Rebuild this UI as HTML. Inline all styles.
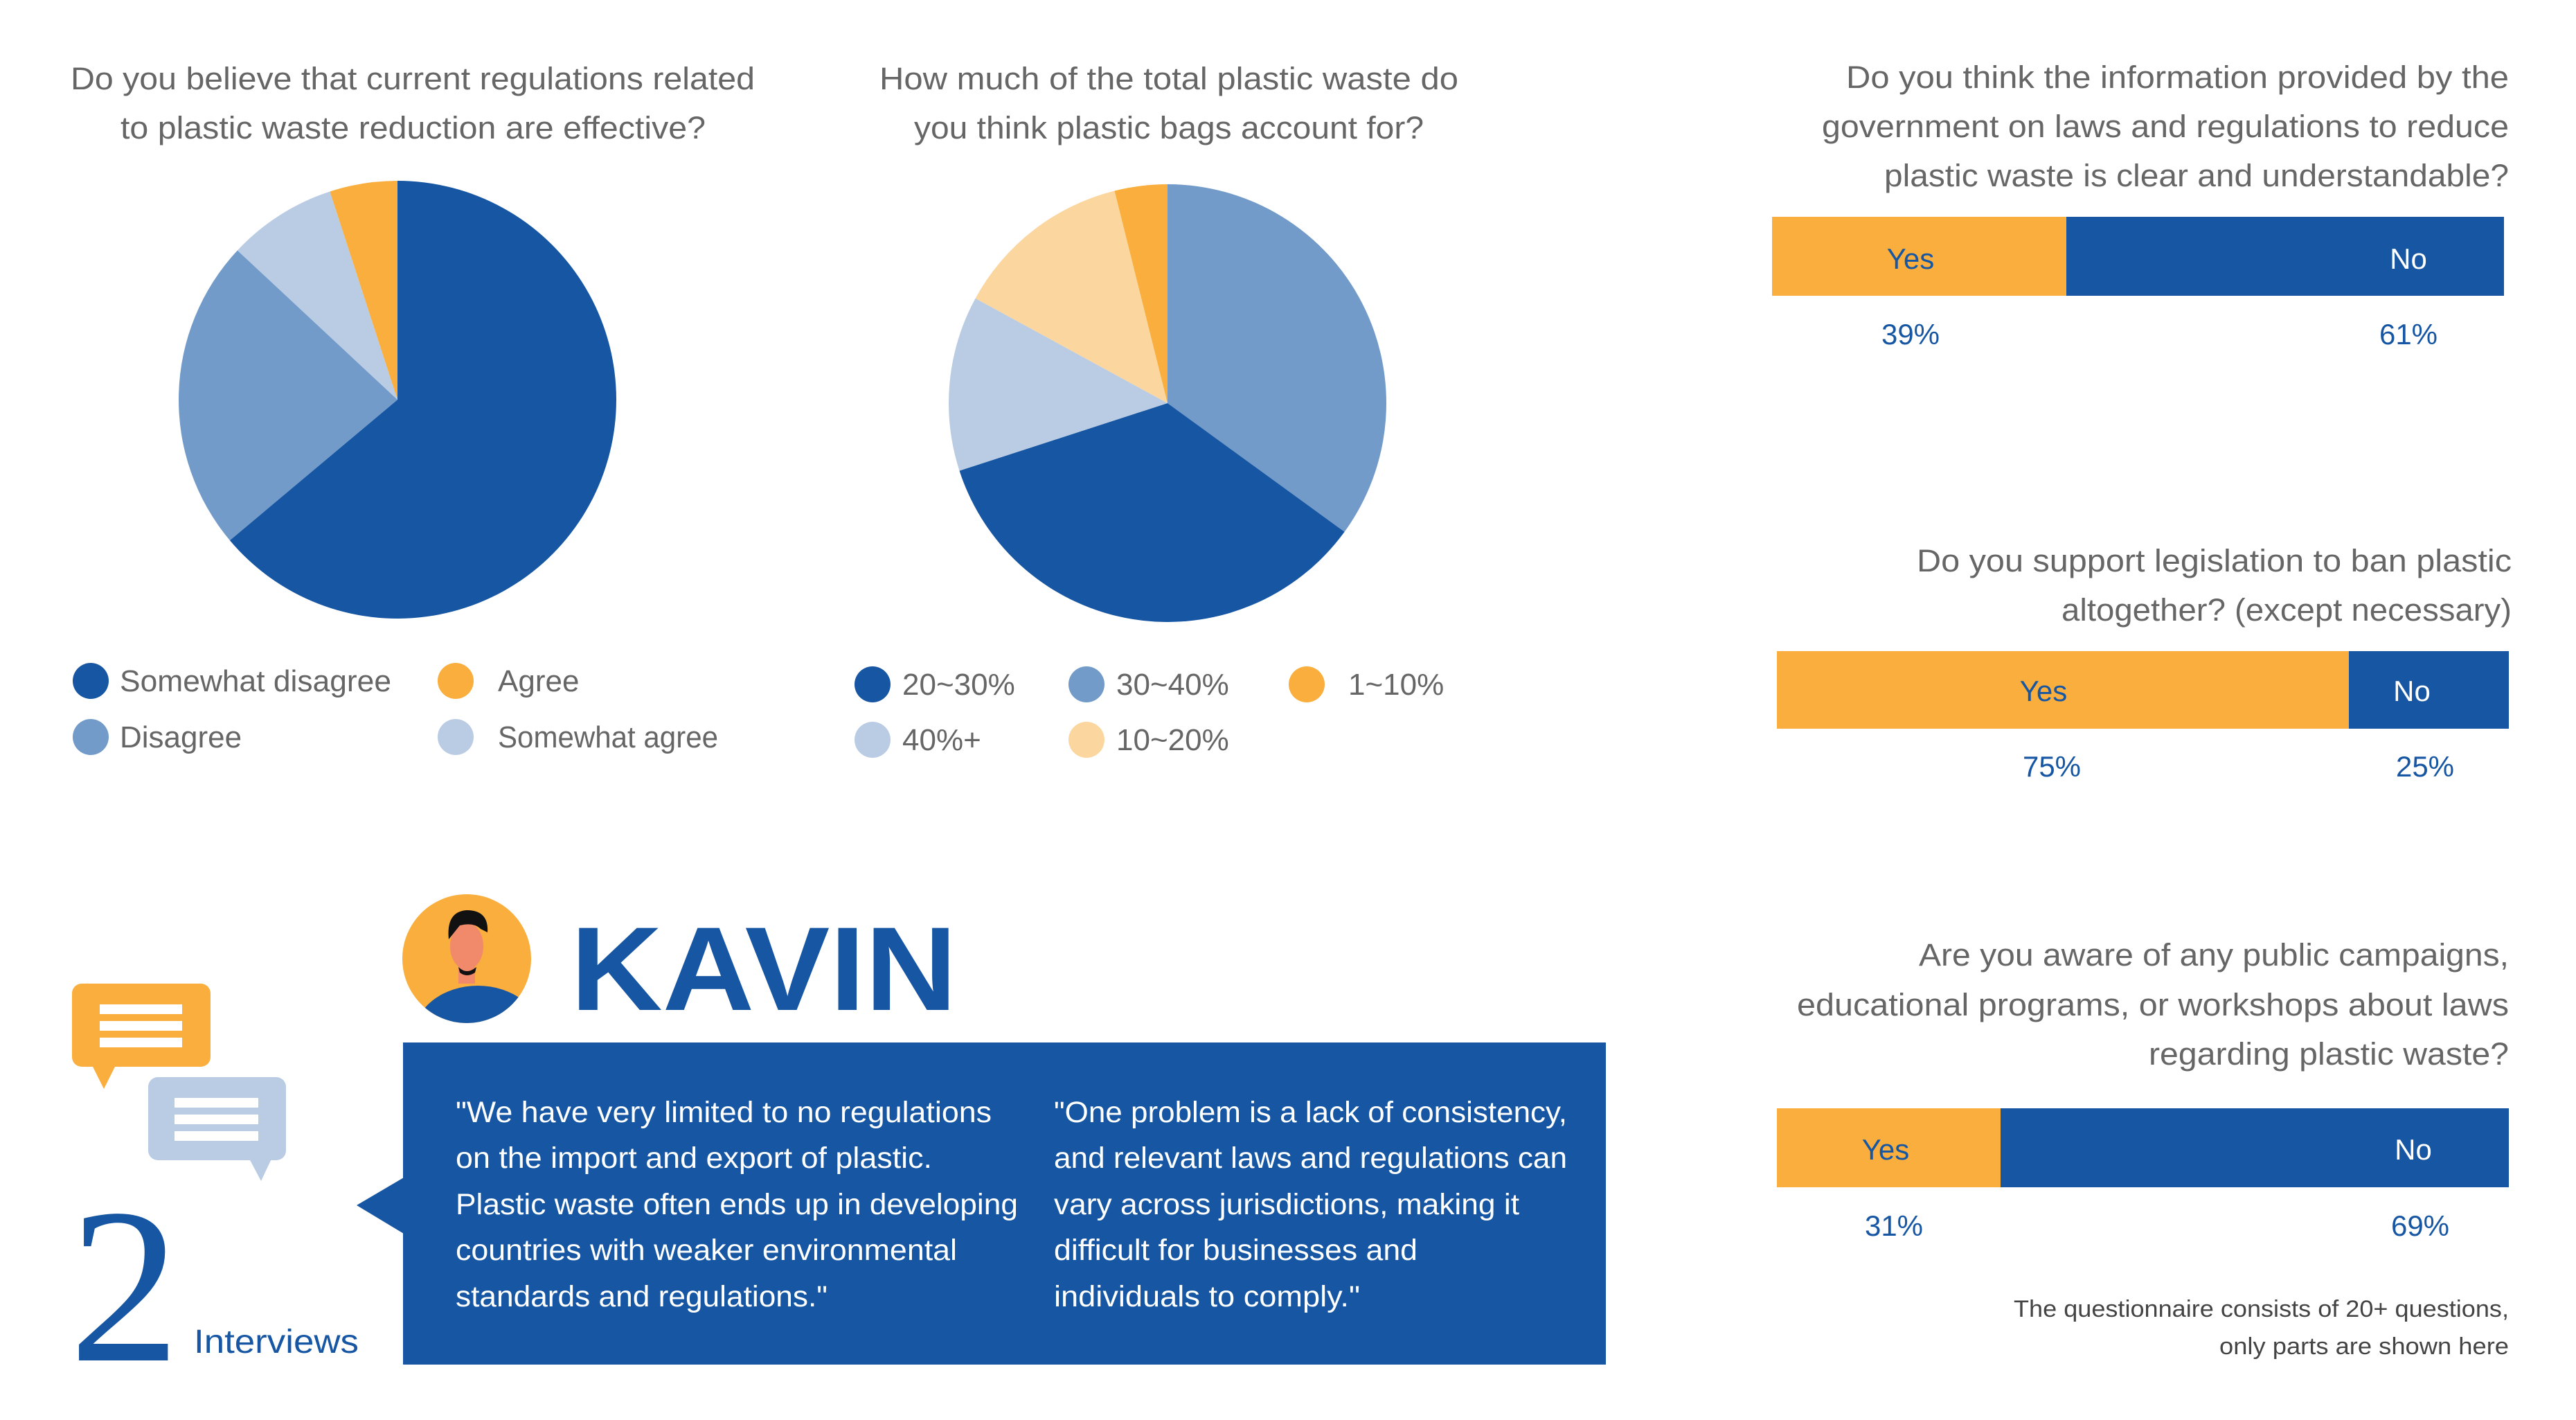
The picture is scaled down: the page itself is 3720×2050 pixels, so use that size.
<!DOCTYPE html>
<html><head><meta charset="utf-8"><style>
html,body{margin:0;padding:0;background:#fff;}
svg{display:block;font-family:"Liberation Sans",sans-serif;}
</style></head><body>
<svg width="3720" height="2050" viewBox="0 0 3720 2050" xmlns="http://www.w3.org/2000/svg">
<rect width="3720" height="2050" fill="#fff"/>
<g fill="#666" font-size="45" lengthAdjust="spacingAndGlyphs">
<text x="102" y="129" textLength="988" lengthAdjust="spacingAndGlyphs">Do you believe that current regulations related</text>
<text x="174" y="200" textLength="845" lengthAdjust="spacingAndGlyphs">to plastic waste reduction are effective?</text>
<text x="1270" y="129" textLength="836" lengthAdjust="spacingAndGlyphs">How much of the total plastic waste do</text>
<text x="1320" y="200" textLength="736" lengthAdjust="spacingAndGlyphs">you think plastic bags account for?</text>
</g>
<!-- Pie 1 -->
<path d="M574,577 L574,261 A316,316 0 1,1 331.9,780.1 Z" fill="#1656a3"/>
<path d="M574,577 L331.9,780.1 A316,316 0 0,1 342.9,361.5 Z" fill="#729bc9"/>
<path d="M574,577 L342.9,361.5 A316,316 0 0,1 476.4,276.5 Z" fill="#b9cce4"/>
<path d="M574,577 L476.4,276.5 A316,316 0 0,1 574,261 Z" fill="#f9ae3d"/>
<!-- Pie 2 -->
<path d="M1686,582 L1686,266 A316,316 0 0,1 1941.6,767.8 Z" fill="#729bc9"/>
<path d="M1686,582 L1941.6,767.8 A316,316 0 0,1 1385.5,679.6 Z" fill="#1656a3"/>
<path d="M1686,582 L1385.5,679.6 A316,316 0 0,1 1408.6,430.7 Z" fill="#b9cce4"/>
<path d="M1686,582 L1408.6,430.7 A316,316 0 0,1 1609.5,275.5 Z" fill="#fbd69e"/>
<path d="M1686,582 L1609.5,275.5 A316,316 0 0,1 1686,266 Z" fill="#f9ae3d"/>
<!-- Legends -->
<g font-size="44" fill="#666">
<circle cx="131" cy="983" r="26" fill="#1656a3"/><text x="173" y="998" textLength="392" lengthAdjust="spacingAndGlyphs">Somewhat disagree</text>
<circle cx="658" cy="983" r="26" fill="#f9ae3d"/><text x="719" y="998">Agree</text>
<circle cx="131" cy="1064" r="26" fill="#729bc9"/><text x="173" y="1079">Disagree</text>
<circle cx="658" cy="1064" r="26" fill="#b9cce4"/><text x="719" y="1079" textLength="318" lengthAdjust="spacingAndGlyphs">Somewhat agree</text>
<circle cx="1260" cy="988" r="26" fill="#1656a3"/><text x="1303" y="1003">20~30%</text>
<circle cx="1569" cy="988" r="26" fill="#729bc9"/><text x="1612" y="1003">30~40%</text>
<circle cx="1887" cy="988" r="26" fill="#f9ae3d"/><text x="1947" y="1003">1~10%</text>
<circle cx="1260" cy="1068" r="26" fill="#b9cce4"/><text x="1303" y="1083">40%+</text>
<circle cx="1569" cy="1068" r="26" fill="#fbd69e"/><text x="1612" y="1083">10~20%</text>
</g>
<!-- Right titles -->
<g fill="#666" font-size="45" text-anchor="end">
<text x="3623" y="127" textLength="957" lengthAdjust="spacingAndGlyphs">Do you think the information provided by the</text>
<text x="3623" y="198" textLength="992" lengthAdjust="spacingAndGlyphs">government on laws and regulations to reduce</text>
<text x="3623" y="269" textLength="902" lengthAdjust="spacingAndGlyphs">plastic waste is clear and understandable?</text>
<text x="3627" y="825" textLength="859" lengthAdjust="spacingAndGlyphs">Do you support legislation to ban plastic</text>
<text x="3627" y="896" textLength="650" lengthAdjust="spacingAndGlyphs">altogether? (except necessary)</text>
<text x="3623" y="1394" textLength="852" lengthAdjust="spacingAndGlyphs">Are you aware of any public campaigns,</text>
<text x="3623" y="1466" textLength="1028" lengthAdjust="spacingAndGlyphs">educational programs, or workshops about laws</text>
<text x="3623" y="1537" textLength="520" lengthAdjust="spacingAndGlyphs">regarding plastic waste?</text>
</g>
<g font-size="34" fill="#444" text-anchor="end">
<text x="3623" y="1901" textLength="715" lengthAdjust="spacingAndGlyphs">The questionnaire consists of 20+ questions,</text>
<text x="3623" y="1955" textLength="418" lengthAdjust="spacingAndGlyphs">only parts are shown here</text>
</g>
<rect x="2559" y="313" width="425" height="114" fill="#f9ae3d"/>
<rect x="2984" y="313" width="632" height="114" fill="#1656a3"/>
<rect x="2566" y="940" width="826" height="112" fill="#f9ae3d"/>
<rect x="3392" y="940" width="231" height="112" fill="#1656a3"/>
<rect x="2566" y="1600" width="323" height="114" fill="#f9ae3d"/>
<rect x="2889" y="1600" width="734" height="114" fill="#1656a3"/>
<g font-size="42" text-anchor="middle">
<text x="2759" y="388" fill="#1656a3">Yes</text><text x="3478" y="388" fill="#fff">No</text>
<text x="2759" y="497" fill="#1656a3">39%</text><text x="3478" y="497" fill="#1656a3">61%</text>
<text x="2951" y="1012" fill="#1656a3">Yes</text><text x="3483" y="1012" fill="#fff">No</text>
<text x="2963" y="1121" fill="#1656a3">75%</text><text x="3502" y="1121" fill="#1656a3">25%</text>
<text x="2723" y="1674" fill="#1656a3">Yes</text><text x="3485" y="1674" fill="#fff">No</text>
<text x="2735" y="1784" fill="#1656a3">31%</text><text x="3495" y="1784" fill="#1656a3">69%</text>
</g>
<!-- Chat bubbles -->
<rect x="104" y="1420" width="200" height="120" rx="14" fill="#f9ae3d"/>
<polygon points="132,1536 168,1536 150,1572" fill="#f9ae3d"/>
<rect x="144" y="1450" width="119" height="14" fill="#fff"/>
<rect x="144" y="1474" width="119" height="14" fill="#fff"/>
<rect x="144" y="1498" width="119" height="14" fill="#fff"/>
<rect x="214" y="1555" width="199" height="120" rx="14" fill="#b9cce4"/>
<polygon points="359,1671 393,1671 377,1705" fill="#b9cce4"/>
<rect x="252" y="1585" width="121" height="14" fill="#fff"/>
<rect x="252" y="1609" width="121" height="14" fill="#fff"/>
<rect x="252" y="1633" width="121" height="14" fill="#fff"/>
<text x="100" y="1964" font-family="Liberation Serif,serif" font-size="320" fill="#1656a3">2</text>
<text x="280" y="1953" font-size="48" fill="#1656a3" textLength="238" lengthAdjust="spacingAndGlyphs">Interviews</text>
<!-- Avatar -->
<clipPath id="av"><circle cx="674" cy="1384" r="93"/></clipPath>
<circle cx="674" cy="1384" r="93" fill="#f9ae3d"/>
<g clip-path="url(#av)">
<ellipse cx="690" cy="1495" rx="92" ry="72" fill="#1656a3"/>
<rect x="662" y="1380" width="24" height="40" fill="#f08a6a"/>
<ellipse cx="674" cy="1366" rx="24" ry="34" fill="#f08a6a"/>
<path d="M648,1356 Q644,1316 674,1314 Q706,1314 704,1346 L694,1341 Q684,1331 664,1336 Z" fill="#111"/>
<path d="M662,1396 Q674,1408 688,1396 L686,1404 Q674,1412 664,1404 Z" fill="#111"/>
</g>
<text x="824" y="1458" font-size="172" font-weight="bold" fill="#1656a3" textLength="558" lengthAdjust="spacingAndGlyphs">KAVIN</text>
<!-- Quote box -->
<rect x="582" y="1505" width="1737" height="465" fill="#1656a3"/>
<polygon points="583,1700 515,1740 583,1781" fill="#1656a3"/>
<g font-size="43" fill="#fff">
<text x="658" y="1620" textLength="774" lengthAdjust="spacingAndGlyphs">"We have very limited to no regulations</text>
<text x="658" y="1686" textLength="688" lengthAdjust="spacingAndGlyphs">on the import and export of plastic.</text>
<text x="658" y="1753" textLength="812" lengthAdjust="spacingAndGlyphs">Plastic waste often ends up in developing</text>
<text x="658" y="1819" textLength="724" lengthAdjust="spacingAndGlyphs">countries with weaker environmental</text>
<text x="658" y="1886" textLength="537" lengthAdjust="spacingAndGlyphs">standards and regulations."</text>
<text x="1522" y="1620" textLength="741" lengthAdjust="spacingAndGlyphs">"One problem is a lack of consistency,</text>
<text x="1522" y="1686" textLength="741" lengthAdjust="spacingAndGlyphs">and relevant laws and regulations can</text>
<text x="1522" y="1753" textLength="672" lengthAdjust="spacingAndGlyphs">vary across jurisdictions, making it</text>
<text x="1522" y="1819" textLength="525" lengthAdjust="spacingAndGlyphs">difficult for businesses and</text>
<text x="1522" y="1886" textLength="442" lengthAdjust="spacingAndGlyphs">individuals to comply."</text>
</g>
</svg>
</body></html>
